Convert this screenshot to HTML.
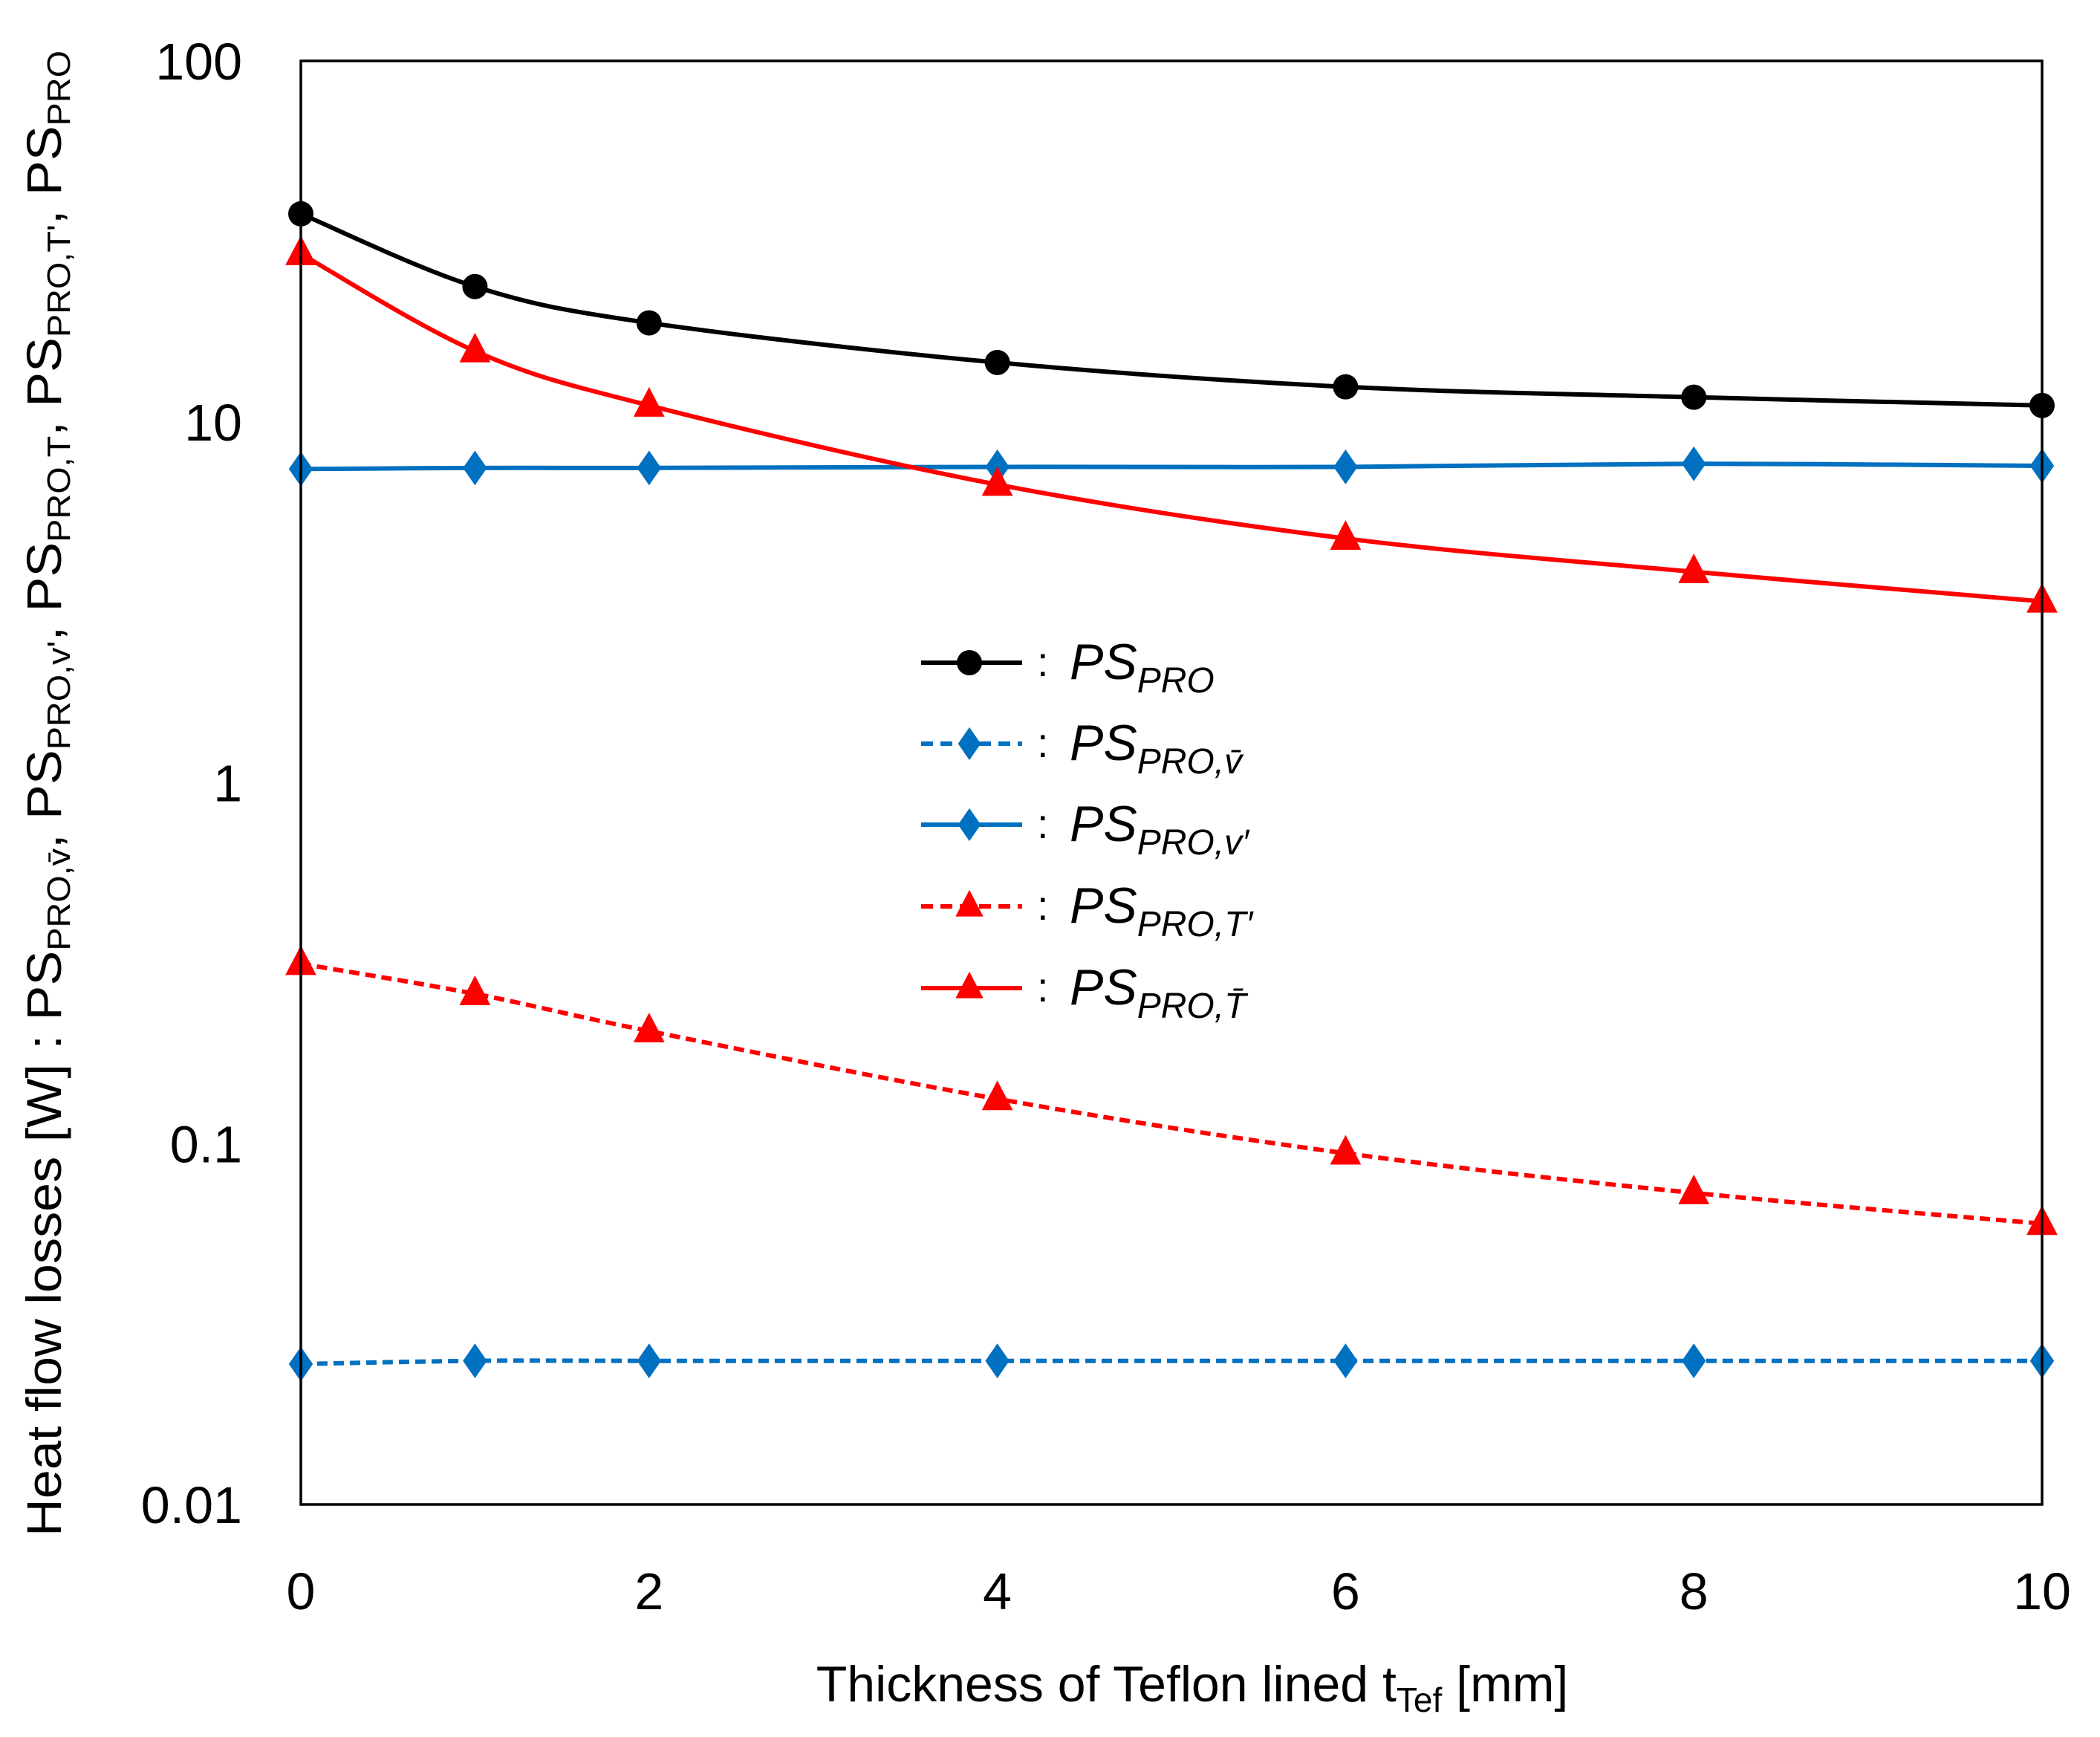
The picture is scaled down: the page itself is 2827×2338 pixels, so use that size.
<!DOCTYPE html>
<html><head><meta charset="utf-8"><style>
html,body{margin:0;padding:0;background:#fff}
svg{display:block}
text{font-family:"Liberation Sans",sans-serif}
</style></head><body>
<svg id="chart" width="2827" height="2338" viewBox="0 0 2827 2338" xmlns="http://www.w3.org/2000/svg">
<rect width="2827" height="2338" fill="#fff"/>
<g id="marks"></g>
<rect x="405" y="82" width="2344" height="1943" fill="none" stroke="#000" stroke-width="3.5"/>
<g id="ticks"></g>
<text x="1605" y="2290" font-size="68" text-anchor="middle">Thickness of Teflon lined t<tspan font-size="46" dy="14">Tef</tspan><tspan dy="-14"> [mm]</tspan></text>
<text transform="translate(82,1068) rotate(-90)" font-size="66" text-anchor="middle" textLength="2000" lengthAdjust="spacingAndGlyphs">Heat flow losses [W] : PS<tspan font-size="44" dy="12">PRO,v̄</tspan><tspan dy="-12">,  PS</tspan><tspan font-size="44" dy="12">PRO,v'</tspan><tspan dy="-12">,  PS</tspan><tspan font-size="44" dy="12">PRO,T</tspan><tspan dy="-12">,  PS</tspan><tspan font-size="44" dy="12">PRO,T'</tspan><tspan dy="-12">,  PS</tspan><tspan font-size="44" dy="12">PRO</tspan></text>
<g id="legend"></g>
</svg>
<script>
const xValues = [0, 1, 2, 4, 6, 8, 10];
const psPro = [37.7, 23.7, 18.8, 14.6, 12.5, 11.7, 11.1];
const psProVbar = [0.0245, 0.025, 0.025, 0.025, 0.025, 0.025, 0.025];
const psProVprime = [7.4, 7.45, 7.45, 7.5, 7.5, 7.65, 7.55];
const psProTprime = [0.315, 0.26, 0.205, 0.133, 0.094, 0.073, 0.060];
const psProTbar = [29.2, 15.7, 11.1, 6.7, 4.75, 3.84, 3.18];
const xTicks = [0, 2, 4, 6, 8, 10];
const yTicks = [0.01, 0.1, 1, 10, 100];
const yTickLabels = ["0.01", "0.1", "1", "10", "100"];
const legendLabels = ["PRO", "PRO,v̄", "PRO,v′", "PRO,T′", "PRO,T̄"];

const NS = "http://www.w3.org/2000/svg";
const X0 = 405, X1 = 2749, Y0 = 82, Y1 = 2025;
function sx(v){ return X0 + (v - 0) / 10 * (X1 - X0); }
function sy(v){ return Y1 - (Math.log10(v) + 2) / 4 * (Y1 - Y0); }
function mk(tag, attrs){ const e = document.createElementNS(NS, tag); for (const k in attrs) e.setAttribute(k, attrs[k]); return e; }

const marks = document.getElementById('marks');
const ticks = document.getElementById('ticks');

yTicks.forEach((t, i) => {
  const e = mk('text', {x: 326, y: sy(t) + 25, 'font-size': 70, 'text-anchor': 'end'});
  e.textContent = yTickLabels[i];
  
  
  ticks.appendChild(e);
});
xTicks.forEach(t => {
  const e = mk('text', {x: sx(t), y: 2166, 'font-size': 70, 'text-anchor': 'middle'});
  e.textContent = String(t);
  
  
  ticks.appendChild(e);
});

function smoothPath(pts){
  let d = `M${pts[0][0]},${pts[0][1]}`;
  for (let i = 0; i < pts.length - 1; i++) {
    const p0 = pts[i-1] || pts[i], p1 = pts[i], p2 = pts[i+1], p3 = pts[i+2] || p2;
    const t = 1/6;
    d += ` C${p1[0]+(p2[0]-p0[0])*t},${p1[1]+(p2[1]-p0[1])*t} ${p2[0]-(p3[0]-p1[0])*t},${p2[1]-(p3[1]-p1[1])*t} ${p2[0]},${p2[1]}`;
  }
  return d;
}
function marker(g, type, x, y, color, s){
  let e;
  if (type === 'circle') e = mk('circle', {cx: x, cy: y, r: s, fill: color});
  else if (type === 'diamond') e = mk('polygon', {points: `${x},${y-s*1.3} ${x+s*0.9},${y} ${x},${y+s*1.3} ${x-s*0.9},${y}`, fill: color});
  else e = mk('polygon', {points: `${x},${y-s*1.3} ${x+s*1.1},${y+s*0.8} ${x-s*1.1},${y+s*0.8}`, fill: color});
  g.appendChild(e);
  return e;
}
const series = [
  {name: 'ps-pro', vals: psPro, color: '#000', dash: null, m: 'circle', s: 17},
  {name: 'ps-pro-vbar', vals: psProVbar, color: '#0070C0', dash: '14 8', m: 'diamond', s: 18},
  {name: 'ps-pro-vprime', vals: psProVprime, color: '#0070C0', dash: null, m: 'diamond', s: 18},
  {name: 'ps-pro-tprime', vals: psProTprime, color: '#FF0000', dash: '14 8', m: 'tri', s: 19},
  {name: 'ps-pro-tbar', vals: psProTbar, color: '#FF0000', dash: null, m: 'tri', s: 19}
];
series.forEach(se => {
  const g = mk('g', {});
  
  
  const pts = xValues.map((x, i) => [sx(x), sy(se.vals[i])]);
  const p = mk('path', {d: smoothPath(pts), fill: 'none', stroke: se.color, 'stroke-width': 6});
  if (se.dash) p.setAttribute('stroke-dasharray', se.dash);
  
  
  g.appendChild(p);
  pts.forEach(pt => {
    const e = marker(g, se.m, pt[0], pt[1], se.color, se.s);
    
    
  });
  marks.appendChild(g);
});

const legend = document.getElementById('legend');
const rowsY = [892, 1001, 1110, 1220, 1330];
series.forEach((se, i) => {
  const y = rowsY[i];
  const g = mk('g', {});
  
  
  const l = mk('line', {x1: 1240, y1: y, x2: 1376, y2: y, stroke: se.color, 'stroke-width': 6});
  if (se.dash) l.setAttribute('stroke-dasharray', '16 10');
  g.appendChild(l);
  marker(g, se.m, 1305, y, se.color, 17);
  const c = mk('text', {x: 1396, y: y + 18, 'font-size': 56});
  c.textContent = ':';
  g.appendChild(c);
  const t = mk('text', {x: 1440, y: y + 22, 'font-size': 68, 'font-style': 'italic', 'font-family': '"Liberation Serif", serif'});
  t.innerHTML = 'PS<tspan font-size="48" dy="18">' + legendLabels[i] + '</tspan>';
  g.appendChild(t);
  legend.appendChild(g);
});
</script>
</body></html>
